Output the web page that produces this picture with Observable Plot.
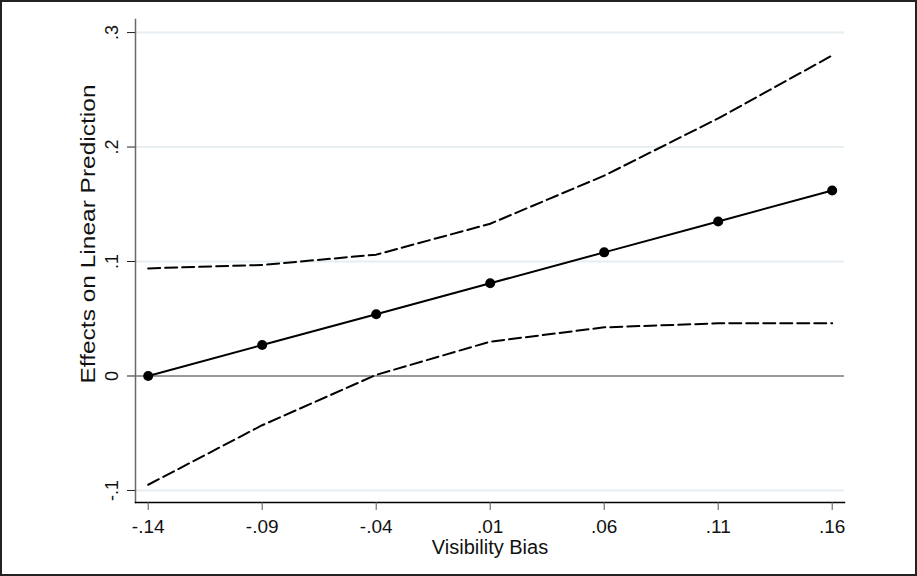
<!DOCTYPE html>
<html>
<head>
<meta charset="utf-8">
<script src="https://cdn.jsdelivr.net/npm/d3@7"></script>
<script src="https://cdn.jsdelivr.net/npm/@observablehq/plot@0.6"></script>
<style>
  html, body { margin: 0; padding: 0; background: #fff; }
  #chart svg { display: block; outline: 2px solid #222; outline-offset: -2px; }
</style>
</head>
<body>
<div id="chart"></div>
<script>
// Data
const visibilityBias = [-0.14, -0.09, -0.04, 0.01, 0.06, 0.11, 0.16];
const effect = [0.000, 0.027, 0.054, 0.081, 0.108, 0.135, 0.162];
const upperCI = [0.094, 0.097, 0.106, 0.133, 0.175, 0.225, 0.280];
const lowerCI = [-0.095, -0.043, 0.001, 0.030, 0.0425, 0.046, 0.046];

const xTicks = [-0.14, -0.09, -0.04, 0.01, 0.06, 0.11, 0.16];
const xTickLabels = ["-.14", "-.09", "-.04", ".01", ".06", ".11", ".16"];
const yTicks = [-0.1, 0, 0.1, 0.2, 0.3];
const yTickLabels = ["-.1", "0", ".1", ".2", ".3"];
const yGrid = [-0.1, 0.1, 0.2, 0.3];

const xTitle = "Visibility Bias";
const yTitle = "Effects on Linear Prediction";

const rows = visibilityBias.map((x, i) => ({x, y: effect[i], hi: upperCI[i], lo: lowerCI[i]}));
const xLab = new Map(xTicks.map((t, i) => [t, xTickLabels[i]]));
const yLab = new Map(yTicks.map((t, i) => [t, yTickLabels[i]]));

const font = "'Liberation Sans', Arial, Helvetica, sans-serif";

const plot = Plot.plot({
  width: 917,
  height: 576,
  marginLeft: 135,
  marginRight: 73,
  marginTop: 19,
  marginBottom: 74,
  style: {fontFamily: font, background: "#fff", color: "#000"},
  x: {domain: [-0.14557, 0.1654]},
  y: {domain: [-0.1105, 0.3114]},
  marks: [
    Plot.gridY(yGrid, {stroke: "#e6eef1", strokeOpacity: 1, strokeWidth: 2}),
    Plot.ruleY([0], {stroke: "#9a9a9a", strokeWidth: 2}),
    Plot.frame({anchor: "left", stroke: "#6a6a6a", strokeWidth: 1.5}),
    Plot.frame({anchor: "bottom", stroke: "#000", strokeWidth: 1.5}),
    Plot.axisX(xTicks, {
      tickSize: 8, tickPadding: 9, stroke: "#555",
      tickFormat: d => xLab.get(d), fontSize: 19, fill: "#111", label: null, className: "xtick"
    }),
    Plot.axisY(yTicks, {
      tickSize: 8, tickPadding: 10, tickRotate: -90, stroke: "#222",
      tickFormat: d => yLab.get(d), fontSize: 18, fill: "#111", label: null, className: "ytick"
    }),
    Plot.line(rows, {x: "x", y: "hi", stroke: "#000", strokeWidth: 2, strokeDasharray: "12,5"}),
    Plot.line(rows, {x: "x", y: "lo", stroke: "#000", strokeWidth: 2, strokeDasharray: "12,5"}),
    Plot.line(rows, {x: "x", y: "y", stroke: "#000", strokeWidth: 2}),
    Plot.dot(rows, {x: "x", y: "y", r: 5, fill: "#000", stroke: "none"}),
    Plot.text([xTitle], {frameAnchor: "bottom", dy: 51, lineAnchor: "bottom", fontSize: 20, fill: "#111"}),
    Plot.text([yTitle], {frameAnchor: "left", dx: -41, dy: 122.5, rotate: -90, textAnchor: "start", lineAnchor: "bottom", fontSize: 20, fill: "#111", className: "ytitle"})
  ]
});

document.getElementById("chart").appendChild(plot);
// enlarge tick labels (Stata-style large labels)
const xSet = new Set(xTickLabels), ySet = new Set(yTickLabels);
d3.select(plot).selectAll("text").each(function() {
  const t = this.textContent;
  if (this.closest(".ytitle")) return;
  if (xSet.has(t) && !ySet.has(t)) this.style.fontSize = "19px";
  else if (ySet.has(t)) this.style.fontSize = "18px";
});
// stretch the vertical title to the length seen in the reference
d3.select(plot).selectAll(".ytitle text").attr("textLength", 299).attr("lengthAdjust", "spacingAndGlyphs");
</script>
</body>
</html>
